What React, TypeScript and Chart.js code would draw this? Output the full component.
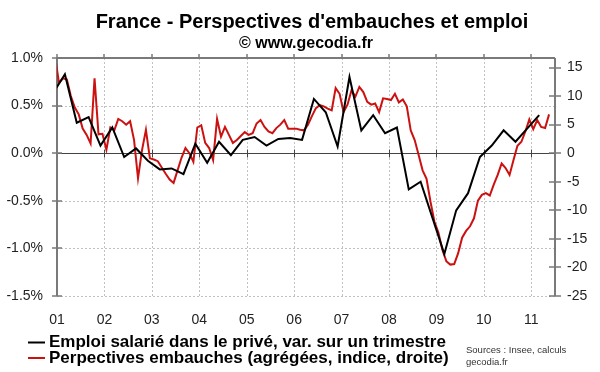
import React, { useEffect, useRef } from 'react';
import { Chart, registerables } from 'chart.js';

Chart.register(...registerables);

const TITLE = "France - Perspectives d'embauches et emploi";
const SUBTITLE = '© www.gecodia.fr';
const LEGEND_EMPLOI = 'Emploi salarié dans le privé, var. sur un trimestre';
const LEGEND_EMBAUCHES = 'Perpectives embauches (agrégées, indice, droite)';
const SOURCES = ['Sources : Insee, calculs', 'gecodia.fr'];

// x axis: months since January 2001
const YEAR_LABELS = ['01', '02', '03', '04', '05', '06', '07', '08', '09', '10', '11'];
const X_MAX_MONTH = 126;
const LEFT_TICKS = [-1.5, -1.0, -0.5, 0, 0.5, 1.0];
const RIGHT_TICKS = [-25, -20, -15, -10, -5, 0, 5, 10, 15];

// Quarterly private employment, % change over a quarter (Q4 2000 .. Q1 2011),
// each point placed on the last month of its quarter
const EMPLOI_START_MONTH = -1; // December 2000
const EMPLOI = [
  0.63,
  0.83, 0.32, 0.38, 0.08,
  0.27, -0.04, 0.05, -0.08,
  -0.17, -0.16, -0.22, 0.10,
  -0.10, 0.12, -0.02, 0.14,
  0.17, 0.08, 0.15, 0.16,
  0.14, 0.57, 0.43, 0.07,
  0.80, 0.24, 0.40, 0.21,
  0.27, -0.38, -0.30, -0.68,
  -1.06, -0.60, -0.42, -0.04,
  0.08, 0.24, 0.12, 0.26,
  0.40,
];

// Monthly hiring perspectives index (Dec 2000 .. May 2011), right axis
const EMBAUCHES_START_MONTH = -1; // December 2000
const EMBAUCHES = [
  17.0,
  12.3, 13.1, 12.9, 10.0, 8.0, 6.8, 4.3, 3.2, 1.7, 13.1, 3.3, 3.4,
  0.6, 4.5, 4.0, 6.0, 5.6, 5.0, 5.6, 2.3, -4.4, 0.5, 4.1, -0.9,
  -1.1, -1.4, -2.5, -3.6, -4.6, -5.2, -3.0, -0.8, 0.9, 0.0, -1.5, 4.5,
  4.9, 1.8, 0.9, -1.2, 6.0, 2.9, 4.6, 3.2, 1.8, 2.3, 3.0, 3.7,
  3.2, 3.5, 5.2, 5.8, 4.6, 3.8, 3.5, 4.4, 5.0, 5.8, 4.3, 4.3,
  4.3, 4.1, 4.0, 5.0, 6.5, 7.9, 8.4, 8.2, 7.8, 7.5, 11.4, 10.4,
  7.2, 8.5, 11.0, 9.9, 11.6, 10.7, 9.0, 8.5, 8.7, 7.2, 9.6, 9.5,
  9.3, 10.4, 8.9, 9.4, 8.2, 4.0, 2.3, -0.3, -3.0, -4.5, -8.5, -12.0,
  -13.9, -16.9, -18.9, -19.5, -19.4, -17.5, -14.8, -13.6, -12.8, -11.4, -8.3, -7.3,
  -7.0, -7.4, -5.5, -3.8, -1.8, -2.6, -3.8, -1.2, 1.3, 2.0, 3.8, 5.9,
  4.2, 5.8, 4.6, 4.4, 6.8,
];

const BLACK = '#000000';
const RED = '#cc1111';
const FONT = '"Liberation Sans", Arial, sans-serif';

const framePlugin = {
  id: 'frame',
  beforeDatasetsDraw(chart: any) {
    const { ctx, chartArea: a, scales } = chart;
    const xs = scales.x;
    const yl = scales.y;
    const yr = scales.y2;
    ctx.save();
    // dotted grid
    ctx.strokeStyle = '#c2c2c2';
    ctx.lineWidth = 1;
    ctx.setLineDash([2, 2]);
    ctx.beginPath();
    YEAR_LABELS.forEach((_, i) => {
      if (i === 0) return;
      const px = Math.round(xs.getPixelForValue(i * 12)) + 0.5;
      ctx.moveTo(px, a.top);
      ctx.lineTo(px, a.bottom);
    });
    LEFT_TICKS.forEach((v) => {
      if (v === 0 || v === 1) return;
      const py = Math.round(yl.getPixelForValue(v)) + 0.5;
      ctx.moveTo(a.left, py);
      ctx.lineTo(a.right, py);
    });
    ctx.stroke();
    ctx.setLineDash([]);

    // zero line with year ticks
    const zy = Math.round(yl.getPixelForValue(0)) + 0.5;
    ctx.strokeStyle = '#444444';
    ctx.lineWidth = 1;
    ctx.beginPath();
    ctx.moveTo(a.left, zy);
    ctx.lineTo(a.right, zy);
    YEAR_LABELS.forEach((_, i) => {
      if (i === 0) return;
      const px = Math.round(xs.getPixelForValue(i * 12)) + 0.5;
      ctx.moveTo(px, zy - 4);
      ctx.lineTo(px, zy + 4);
    });
    ctx.stroke();

    // axes and top border
    ctx.strokeStyle = '#7a7a7a';
    ctx.lineWidth = 2;
    ctx.beginPath();
    ctx.moveTo(a.left, a.bottom);
    ctx.lineTo(a.left, a.top);
    ctx.lineTo(a.right, a.top);
    ctx.moveTo(a.right, a.top);
    ctx.lineTo(a.right, a.bottom);
    ctx.stroke();

    ctx.lineWidth = 1.5;
    ctx.beginPath();
    LEFT_TICKS.forEach((v) => {
      const py = Math.round(yl.getPixelForValue(v));
      ctx.moveTo(a.left - 5, py);
      ctx.lineTo(a.left + 5, py);
    });
    RIGHT_TICKS.forEach((v) => {
      const py = Math.round(yr.getPixelForValue(v));
      ctx.moveTo(a.right - 6, py);
      ctx.lineTo(a.right + 6, py);
    });
    YEAR_LABELS.forEach((_, i) => {
      const px = Math.round(xs.getPixelForValue(i * 12));
      ctx.moveTo(px, a.top - 4);
      ctx.lineTo(px, a.top);
    });
    ctx.stroke();
    ctx.restore();
  },
  afterDraw(chart: any) {
    const { ctx } = chart;
    ctx.save();
    ctx.fillStyle = '#000';
    ctx.textAlign = 'center';
    ctx.textBaseline = 'alphabetic';
    ctx.font = `bold 20px ${FONT}`;
    ctx.fillText(TITLE, 312, 28);
    ctx.font = `bold 16px ${FONT}`;
    ctx.fillText(SUBTITLE, 306, 48);

    // legend
    ctx.textAlign = 'left';
    ctx.font = `bold 17px ${FONT}`;
    const rows = [
      { text: LEGEND_EMPLOI, color: BLACK, base: 347, line: 342.5 },
      { text: LEGEND_EMBAUCHES, color: RED, base: 363, line: 358 },
    ];
    rows.forEach((r) => {
      ctx.strokeStyle = r.color;
      ctx.lineWidth = 2;
      ctx.beginPath();
      ctx.moveTo(28, r.line);
      ctx.lineTo(45, r.line);
      ctx.stroke();
      ctx.fillStyle = '#000';
      ctx.fillText(r.text, 49, r.base);
    });

    ctx.font = `9.5px ${FONT}`;
    ctx.fillStyle = '#333';
    ctx.fillText(SOURCES[0], 466, 353);
    ctx.fillText(SOURCES[1], 466, 365);
    ctx.restore();
  },
};

export default function App() {
  const canvasRef = useRef<HTMLCanvasElement | null>(null);

  useEffect(() => {
    const canvas = canvasRef.current;
    if (!canvas) return;
    const emploiData = EMPLOI.map((v, k) => ({ x: EMPLOI_START_MONTH + 3 * k, y: v }));
    const embauchesData = EMBAUCHES.map((v, i) => ({ x: EMBAUCHES_START_MONTH + i + 0.5, y: v }));
    const tickFont = { family: FONT, size: 14 };

    const chart = new Chart(canvas, {
      type: 'line',
      data: {
        datasets: [
          {
            label: LEGEND_EMPLOI,
            data: emploiData,
            borderColor: BLACK,
            backgroundColor: BLACK,
            borderWidth: 2,
            pointRadius: 0,
            tension: 0,
            yAxisID: 'y',
          },
          {
            label: LEGEND_EMBAUCHES,
            data: embauchesData,
            borderColor: RED,
            backgroundColor: RED,
            borderWidth: 2,
            pointRadius: 0,
            tension: 0,
            yAxisID: 'y2',
          },
        ],
      },
      options: {
        responsive: false,
        animation: false,
        devicePixelRatio: 1,
        layout: { padding: { top: 58, left: 0, right: 0, bottom: 0 } },
        plugins: {
          legend: { display: false },
          tooltip: { enabled: false },
          title: { display: false },
        },
        scales: {
          x: {
            type: 'linear',
            position: 'bottom',
            min: 0,
            max: X_MAX_MONTH,
            afterBuildTicks: (scale: any) => {
              scale.ticks = YEAR_LABELS.map((_, i) => ({ value: i * 12 }));
            },
            afterFit: (scale: any) => {
              scale.height = 76;
            },
            ticks: {
              autoSkip: false,
              maxRotation: 0,
              padding: 16,
              color: '#222',
              font: tickFont,
              callback: (_v: any, idx: number) => YEAR_LABELS[idx],
            },
            grid: { display: false, drawTicks: false },
            border: { display: false },
          },
          y: {
            type: 'linear',
            position: 'left',
            min: -1.5,
            max: 1.0,
            afterBuildTicks: (scale: any) => {
              scale.ticks = LEFT_TICKS.map((v) => ({ value: v }));
            },
            afterFit: (scale: any) => {
              scale.width = 57;
            },
            ticks: {
              padding: 14,
              color: '#222',
              font: tickFont,
              callback: (v: any) => Number(v).toFixed(1) + '%',
            },
            grid: { display: false, drawTicks: false },
            border: { display: false },
          },
          y2: {
            type: 'linear',
            position: 'right',
            min: -25,
            max: 25 / 1.5,
            afterBuildTicks: (scale: any) => {
              scale.ticks = RIGHT_TICKS.map((v) => ({ value: v }));
            },
            afterFit: (scale: any) => {
              scale.width = 45;
            },
            ticks: {
              padding: 12,
              color: '#222',
              font: tickFont,
              callback: (v: any) => String(v),
            },
            grid: { display: false, drawTicks: false },
            border: { display: false },
          },
        },
      },
      plugins: [framePlugin],
    });

    return () => chart.destroy();
  }, []);

  return (
    <div style={{ position: 'absolute', left: 0, top: 0, width: 600, height: 372, background: '#fff' }}>
      <canvas ref={canvasRef} width={600} height={372} style={{ display: 'block' }} />
    </div>
  );
}
